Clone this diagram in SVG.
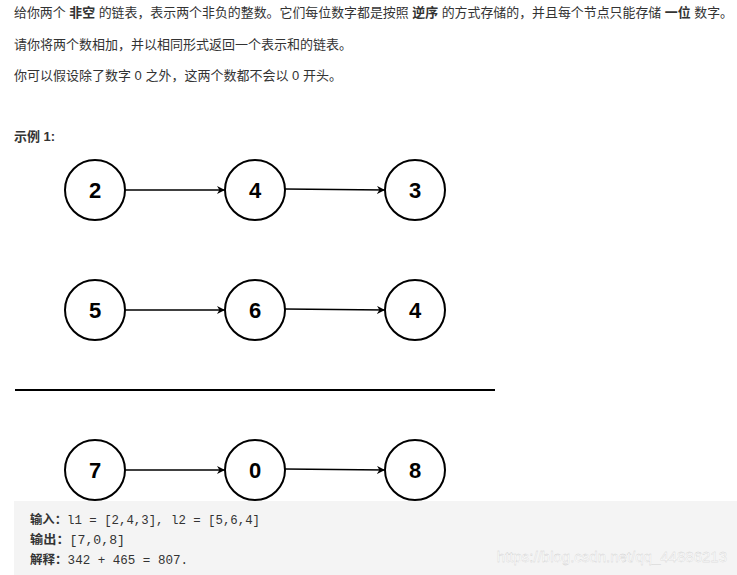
<svg xmlns="http://www.w3.org/2000/svg" width="737" height="575" viewBox="0 0 737 575">
<style>
.t{font-family:"Liberation Sans","Noto Sans CJK SC",sans-serif;font-size:13px;fill:#333}
.b{font-weight:bold}
.n circle{fill:#fff;stroke:#000;stroke-width:2}
.n text{font-family:"Liberation Sans",Arial,sans-serif;font-size:22px;font-weight:bold;text-anchor:middle;fill:#000}
.c line{stroke:#000;stroke-width:1.5}
.m{font-family:"Liberation Mono","Noto Sans CJK SC",monospace;font-size:12px;fill:#333}
</style>
<defs><marker id="a" viewBox="0 0 10 10" refX="10" refY="5" markerWidth="8" markerHeight="8" orient="auto" markerUnits="userSpaceOnUse"><path d="M0,0L10,5L0,10L3,5z" fill="#000"/></marker></defs>
<rect width="737" height="575" fill="#fff"/>
<text class="t" x="14" y="17" textLength="719" lengthAdjust="spacingAndGlyphs">给你两个 <tspan class="b">非空</tspan> 的链表，表示两个非负的整数。它们每位数字都是按照 <tspan class="b">逆序</tspan> 的方式存储的，并且每个节点只能存储 <tspan class="b">一位</tspan> 数字。</text>
<text class="t" x="14" y="49">请你将两个数相加，并以相同形式返回一个表示和的链表。</text>
<text class="t" x="14" y="80">你可以假设除了数字 0 之外，这两个数都不会以 0 开头。</text>
<text class="t b" x="14" y="141">示例 1:</text>
<g class="c">
<line x1="125" y1="190" x2="225" y2="190" marker-end="url(#a)"/>
<line x1="285" y1="189" x2="385" y2="190" marker-end="url(#a)"/>
<line x1="125" y1="310" x2="225" y2="310" marker-end="url(#a)"/>
<line x1="285" y1="309" x2="385" y2="310" marker-end="url(#a)"/>
<line x1="125" y1="470" x2="225" y2="470" marker-end="url(#a)"/>
<line x1="285" y1="469" x2="385" y2="470" marker-end="url(#a)"/>
<line x1="15" y1="390" x2="495" y2="390" style="stroke-width:2"/>
</g>
<g id="n1" class="n"><circle cx="95" cy="190" r="30"/><text x="95" y="198">2</text></g>
<g id="n2" class="n"><circle cx="255" cy="190" r="30"/><text x="255" y="198">4</text></g>
<g id="n3" class="n"><circle cx="415" cy="190" r="30"/><text x="415" y="198">3</text></g>
<g id="n4" class="n"><circle cx="95" cy="310" r="30"/><text x="95" y="318">5</text></g>
<g id="n5" class="n"><circle cx="255" cy="310" r="30"/><text x="255" y="318">6</text></g>
<g id="n6" class="n"><circle cx="415" cy="310" r="30"/><text x="415" y="318">4</text></g>
<g id="n7" class="n"><circle cx="95" cy="470" r="30"/><text x="95" y="478">7</text></g>
<g id="n8" class="n"><circle cx="255" cy="470" r="30"/><text x="255" y="478">0</text></g>
<g id="n9" class="n"><circle cx="415" cy="470" r="30"/><text x="415" y="478">8</text></g>
<rect x="14" y="501" width="723" height="74" fill="#f4f4f4"/>
<text class="m" x="30" y="524" textLength="230" lengthAdjust="spacingAndGlyphs"><tspan class="b">输入：</tspan>l1 = [2,4,3], l2 = [5,6,4]</text>
<text class="m" x="30" y="544" textLength="95" lengthAdjust="spacingAndGlyphs"><tspan class="b">输出：</tspan>[7,0,8]</text>
<text class="m" x="30" y="564" textLength="158" lengthAdjust="spacingAndGlyphs"><tspan class="b">解释：</tspan>342 + 465 = 807.</text>
<text x="727" y="562" text-anchor="end" style="font-family:'Liberation Sans',sans-serif;font-size:15px;fill:#fff;stroke:#ccc;stroke-width:0.3">https://blog.csdn.net/qq_44886213</text>
</svg>
